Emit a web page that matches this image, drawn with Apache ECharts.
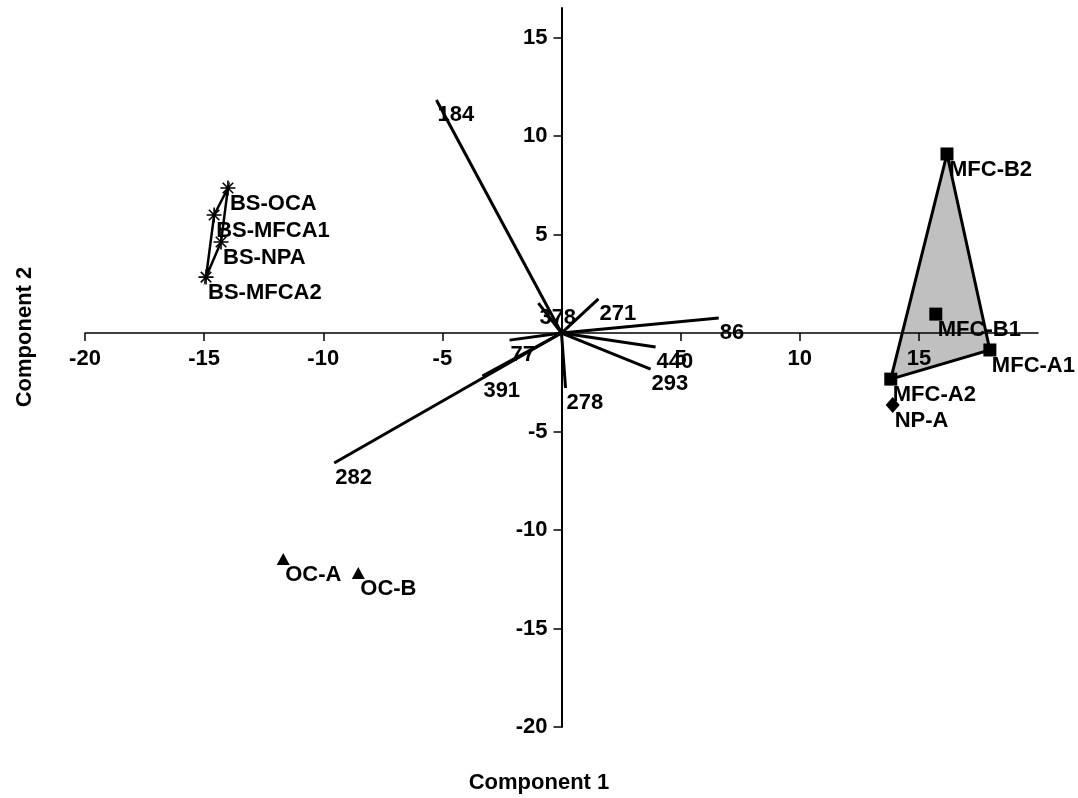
<!DOCTYPE html>
<html><head><meta charset="utf-8">
<script src="https://cdn.jsdelivr.net/npm/echarts@6/dist/echarts.min.js"></script>
<style>html,body{margin:0;padding:0;background:#fff}#c{width:1078px;height:798px}</style>
</head><body><div id="c"></div>
<script>
// ---- data ----
const xTicks = [-20, -15, -10, -5, 5, 10, 15];
const yTicks = [-20, -15, -10, -5, 5, 10, 15];

const bsNames = ['BS-OCA', 'BS-MFCA1', 'BS-NPA', 'BS-MFCA2'];
const bsX = [-14.0, -14.58, -14.29, -14.92];
const bsY = [7.36, 5.99, 4.62, 2.84];
const bsHull = [0, 1, 3, 2];

const mfcNames = ['MFC-B2', 'MFC-B1', 'MFC-A1', 'MFC-A2'];
const mfcX = [16.18, 15.71, 17.98, 13.82];
const mfcY = [9.09, 0.96, -0.86, -2.34];
const mfcHull = [0, 2, 3];

const npNames = ['NP-A'];
const npX = [13.9];
const npY = [-3.65];

const ocNames = ['OC-A', 'OC-B'];
const ocX = [-11.68, -8.53];
const ocY = [-11.47, -12.18];

const vecNames = ['184', '282', '391', '77', '378', '271', '86', '440', '293', '278'];
const vecX = [-5.25, -9.54, -3.32, -2.18, -0.97, 1.55, 6.6, 3.95, 3.74, 0.17];
const vecY = [11.83, -6.6, -2.18, -0.36, 1.52, 1.73, 0.76, -0.71, -1.83, -2.79];

// ---- chart ----
const FONT = '"Liberation Sans", Arial, sans-serif';
const GRID = {left: 85, right: 40, top: 8, bottom: 71};
const XMIN = -20, XMAX = 20, YMIN = -20, YMAX = 16.5;
const W = 1078, H = 798;
// shift the axes so they cross at the data origin
const xAxisOffset = -(H - GRID.top - GRID.bottom) * (0 - YMIN) / (YMAX - YMIN);
const yAxisOffset = -(W - GRID.left - GRID.right) * (0 - XMIN) / (XMAX - XMIN);

const chart = echarts.init(document.getElementById('c'), null, {renderer: 'canvas'});

function pts(names, xs, ys) {
  return names.map((n, i) => ({name: n, value: [xs[i], ys[i]]}));
}
const labelCfg = {
  show: true, position: ['50%', '50%'], offset: [2, 16], align: 'left', verticalAlign: 'middle',
  formatter: '{b}', color: '#000', fontSize: 22, fontWeight: 'bold', fontFamily: FONT
};
function hullSeries(xs, ys, order, fill, lw) {
  const data = order.map(i => [xs[i], ys[i]]);
  return {
    type: 'custom', coordinateSystem: 'cartesian2d', data: data, z: 1, silent: true, clip: false,
    renderItem: function (params, api) {
      if (params.dataIndex !== 0) return null;
      const p = data.map(d => api.coord(d));
      return {type: 'polygon', shape: {points: p},
        style: {fill: fill, stroke: '#000', lineWidth: lw, lineJoin: 'miter'}};
    }
  };
}

const option = {
  animation: false,
  backgroundColor: '#fff',
  grid: Object.assign({containLabel: false}, GRID),
  xAxis: {
    type: 'value', min: XMIN, max: XMAX, interval: 5, position: 'bottom', offset: xAxisOffset, z: 5,
    axisLine: {onZero: false, lineStyle: {color: '#000', width: 1.5}},
    axisTick: {show: true, length: 8, customValues: xTicks, lineStyle: {color: '#000', width: 1.5}},
    axisLabel: {customValues: xTicks, margin: 15, color: '#000', fontSize: 22, fontWeight: 'bold', fontFamily: FONT},
    splitLine: {show: false}
  },
  yAxis: {
    type: 'value', min: YMIN, max: YMAX, interval: 5, position: 'left', offset: yAxisOffset, z: 5,
    axisLine: {onZero: false, lineStyle: {color: '#000', width: 2}},
    axisTick: {show: true, length: 8, customValues: yTicks, lineStyle: {color: '#000', width: 1.5}},
    axisLabel: {customValues: yTicks, margin: 14, color: '#000', fontSize: 22, fontWeight: 'bold', fontFamily: FONT},
    splitLine: {show: false}
  },
  graphic: [
    {type: 'text', left: 'center', top: 772, style: {text: 'Component 1', font: 'bold 22px ' + FONT, fill: '#000'}},
    {type: 'text', x: 14, y: 337, rotation: Math.PI / 2,
      style: {text: 'Component 2', font: 'bold 22px ' + FONT, fill: '#000', align: 'center', verticalAlign: 'top'}}
  ],
  series: [
    hullSeries(mfcX, mfcY, mfcHull, '#c0c0c0', 3),
    hullSeries(bsX, bsY, bsHull, 'none', 2.5),
    {
      type: 'scatter', data: pts(mfcNames, mfcX, mfcY), symbol: 'rect', symbolSize: 13, z: 3,
      itemStyle: {color: '#000', opacity: 1}, label: labelCfg
    },
    {
      type: 'scatter', data: pts(npNames, npX, npY), symbol: 'diamond', symbolSize: [14, 16], z: 3,
      itemStyle: {color: '#000', opacity: 1}, label: labelCfg
    },
    {
      type: 'scatter', data: pts(ocNames, ocX, ocY), symbol: 'triangle', symbolSize: [13, 12], z: 3,
      itemStyle: {color: '#000', opacity: 1}, label: labelCfg
    },
    {
      type: 'scatter', data: pts(bsNames, bsX, bsY),
      symbol: 'path://M10,0L10,20M0,10L20,10M3,3L17,17M3,17L17,3', symbolSize: 15, z: 3,
      itemStyle: {color: 'transparent', borderColor: '#000', borderWidth: 1.6, opacity: 1}, label: labelCfg
    },
    {
      type: 'custom', coordinateSystem: 'cartesian2d', z: 4, clip: false, silent: true,
      data: vecNames.map((n, i) => ({name: n, value: [vecX[i], vecY[i]]})),
      renderItem: function (params, api) {
        const o = api.coord([0, 0]);
        const e = api.coord([api.value(0), api.value(1)]);
        return {type: 'group', children: [
          {type: 'line', shape: {x1: o[0], y1: o[1], x2: e[0], y2: e[1]}, style: {stroke: '#000', lineWidth: 3}},
          {type: 'text', x: e[0] + 1, y: e[1] + 15,
            style: {text: vecNames[params.dataIndex], font: 'bold 22px ' + FONT, fill: '#000', align: 'left', verticalAlign: 'middle'}}
        ]};
      }
    }
  ]
};
chart.setOption(option);
</script></body></html>
